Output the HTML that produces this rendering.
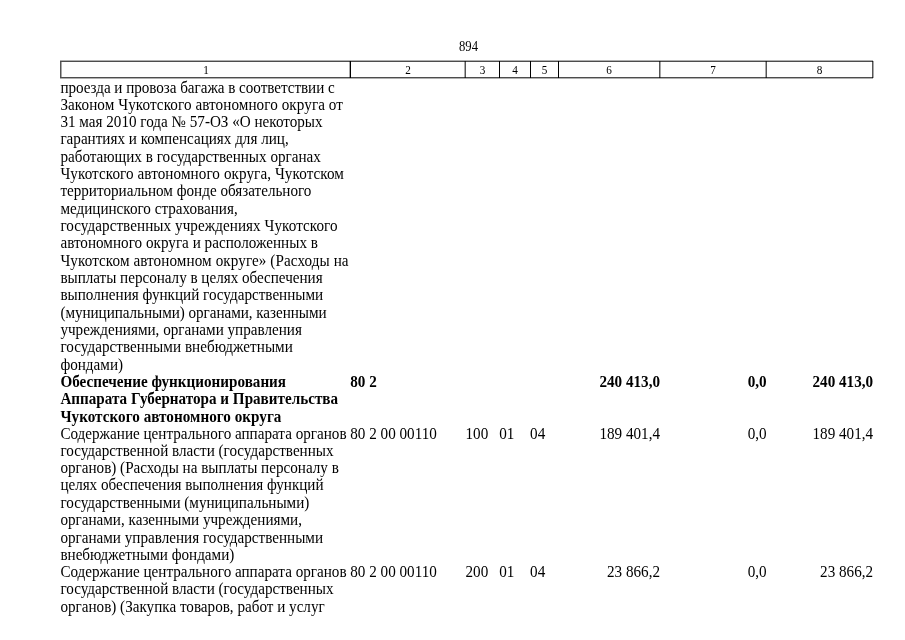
<!DOCTYPE html>
<html><head><meta charset="utf-8">
<style>
html,body{margin:0;padding:0;background:#fff;}
body{-webkit-font-smoothing:antialiased;will-change:transform;width:905px;height:640px;position:relative;overflow:hidden;font-family:"Liberation Serif",serif;color:#000;}
.a{position:absolute;white-space:nowrap;transform:scaleY(1.04);transform-origin:0 13.78px;font-size:15.15px;line-height:17.33px;}
.b{font-weight:bold;}
.r{text-align:right;}
.l{position:absolute;mix-blend-mode:multiply;}
.hn{position:absolute;top:62.2px;height:16px;font-size:11.2px;line-height:16px;text-align:center;transform:scaleY(1.1);transform-origin:0 11.78px;}
.pn{position:absolute;left:459.0px;top:38.7px;font-size:12.7px;line-height:16px;transform:scaleY(1.14);transform-origin:0 12.32px;}
</style></head>
<body>
<div class="pn">894</div>

<div class="l" style="left:60px;top:60px;width:813px;height:1px;background:#b0b0b0;"></div>
<div class="l" style="left:60px;top:61px;width:813px;height:1px;background:#4d4d4d;"></div>
<div class="l" style="left:60px;top:77px;width:813px;height:1px;background:#4d4d4d;"></div>
<div class="l" style="left:60px;top:78px;width:813px;height:1px;background:#b0b0b0;"></div>
<div class="l" style="left:60px;top:62px;width:1px;height:15px;background:#555;"></div>
<div class="l" style="left:61px;top:62px;width:1px;height:15px;background:#a8a8a8;"></div>
<div class="l" style="left:349px;top:61px;width:1px;height:17px;background:#aaa;"></div>
<div class="l" style="left:350px;top:61px;width:1px;height:17px;background:#000;"></div>
<div class="l" style="left:464px;top:61px;width:1px;height:17px;background:#aaa;"></div>
<div class="l" style="left:465px;top:61px;width:1px;height:17px;background:#555;"></div>
<div class="l" style="left:499px;top:61px;width:1px;height:17px;background:#000;"></div>
<div class="l" style="left:530px;top:61px;width:1px;height:17px;background:#000;"></div>
<div class="l" style="left:558px;top:61px;width:1px;height:17px;background:#000;"></div>
<div class="l" style="left:659px;top:61px;width:1px;height:17px;background:#555;"></div>
<div class="l" style="left:660px;top:61px;width:1px;height:17px;background:#a8a8a8;"></div>
<div class="l" style="left:765px;top:61px;width:1px;height:17px;background:#aaa;"></div>
<div class="l" style="left:766px;top:61px;width:1px;height:17px;background:#555;"></div>
<div class="l" style="left:872px;top:61px;width:1px;height:17px;background:#555;"></div>
<div class="l" style="left:873px;top:61px;width:1px;height:17px;background:#a8a8a8;"></div>
<div class="hn" style="left:61px;width:290px;">1</div>
<div class="hn" style="left:350px;width:116px;">2</div>
<div class="hn" style="left:465px;width:35px;">3</div>
<div class="hn" style="left:499px;width:32px;">4</div>
<div class="hn" style="left:530px;width:29px;">5</div>
<div class="hn" style="left:558px;width:102px;">6</div>
<div class="hn" style="left:659px;width:108px;">7</div>
<div class="hn" style="left:766px;width:107px;">8</div>
<div class="a" style="left:60.4px;top:79.00px;letter-spacing:-0.0375px;">проезда и провоза багажа в соответствии с</div>
<div class="a" style="left:60.4px;top:96.00px;letter-spacing:0.0821px;">Законом Чукотского автономного округа от</div>
<div class="a" style="left:60.4px;top:113.00px;">31 мая 2010 года № 57-ОЗ «О некоторых</div>
<div class="a" style="left:60.4px;top:130.00px;">гарантиях и компенсациях для лиц,</div>
<div class="a" style="left:60.4px;top:148.00px;">работающих в государственных органах</div>
<div class="a" style="left:60.4px;top:165.00px;letter-spacing:0.0846px;">Чукотского автономного округа, Чукотском</div>
<div class="a" style="left:60.4px;top:182.00px;">территориальном фонде обязательного</div>
<div class="a" style="left:60.4px;top:200.00px;">медицинского страхования,</div>
<div class="a" style="left:60.4px;top:217.00px;letter-spacing:0.0541px;">государственных учреждениях Чукотского</div>
<div class="a" style="left:60.4px;top:234.00px;letter-spacing:0.0200px;">автономного округа и расположенных в</div>
<div class="a" style="left:60.4px;top:252.00px;letter-spacing:0.0923px;">Чукотском автономном округе» (Расходы на</div>
<div class="a" style="left:60.4px;top:269.00px;letter-spacing:-0.0194px;">выплаты персоналу в целях обеспечения</div>
<div class="a" style="left:60.4px;top:286.00px;">выполнения функций государственными</div>
<div class="a" style="left:60.4px;top:304.00px;letter-spacing:-0.0400px;">(муниципальными) органами, казенными</div>
<div class="a" style="left:60.4px;top:321.00px;">учреждениями, органами управления</div>
<div class="a" style="left:60.4px;top:338.00px;letter-spacing:0.0379px;">государственными внебюджетными</div>
<div class="a" style="left:60.4px;top:356.00px;">фондами)</div>
<div class="a b" style="left:60.4px;top:373.00px;">Обеспечение функционирования</div>
<div class="a b" style="left:60.4px;top:390.00px;">Аппарата Губернатора и Правительства</div>
<div class="a b" style="left:60.4px;top:408.00px;letter-spacing:0.0357px;">Чукотского автономного округа</div>
<div class="a" style="left:60.4px;top:425.00px;">Содержание центрального аппарата органов</div>
<div class="a" style="left:60.4px;top:442.00px;">государственной власти (государственных</div>
<div class="a" style="left:60.4px;top:459.00px;">органов) (Расходы на выплаты персоналу в</div>
<div class="a" style="left:60.4px;top:476.00px;letter-spacing:-0.0314px;">целях обеспечения выполнения функций</div>
<div class="a" style="left:60.4px;top:494.00px;">государственными (муниципальными)</div>
<div class="a" style="left:60.4px;top:511.00px;">органами, казенными учреждениями,</div>
<div class="a" style="left:60.4px;top:529.00px;">органами управления государственными</div>
<div class="a" style="left:60.4px;top:546.00px;">внебюджетными фондами)</div>
<div class="a" style="left:60.4px;top:563.00px;">Содержание центрального аппарата органов</div>
<div class="a" style="left:60.4px;top:580.00px;">государственной власти (государственных</div>
<div class="a" style="left:60.4px;top:598.00px;">органов) (Закупка товаров, работ и услуг</div>
<div class="a b" style="left:350.3px;top:373.00px;">80 2</div>
<div class="a r b" style="right:245.0px;top:373.00px;">240 413,0</div>
<div class="a r b" style="right:138.3px;top:373.00px;">0,0</div>
<div class="a r b" style="right:31.9px;top:373.00px;">240 413,0</div>
<div class="a" style="left:350.3px;top:425.00px;">80 2 00 00110</div>
<div class="a" style="left:465.5px;top:425.00px;">100</div>
<div class="a" style="left:499.2px;top:425.00px;">01</div>
<div class="a" style="left:530.1px;top:425.00px;">04</div>
<div class="a r" style="right:245.0px;top:425.00px;">189 401,4</div>
<div class="a r" style="right:138.3px;top:425.00px;">0,0</div>
<div class="a r" style="right:31.9px;top:425.00px;">189 401,4</div>
<div class="a" style="left:350.3px;top:563.00px;">80 2 00 00110</div>
<div class="a" style="left:465.5px;top:563.00px;">200</div>
<div class="a" style="left:499.2px;top:563.00px;">01</div>
<div class="a" style="left:530.1px;top:563.00px;">04</div>
<div class="a r" style="right:245.0px;top:563.00px;">23 866,2</div>
<div class="a r" style="right:138.3px;top:563.00px;">0,0</div>
<div class="a r" style="right:31.9px;top:563.00px;">23 866,2</div>
</body></html>
